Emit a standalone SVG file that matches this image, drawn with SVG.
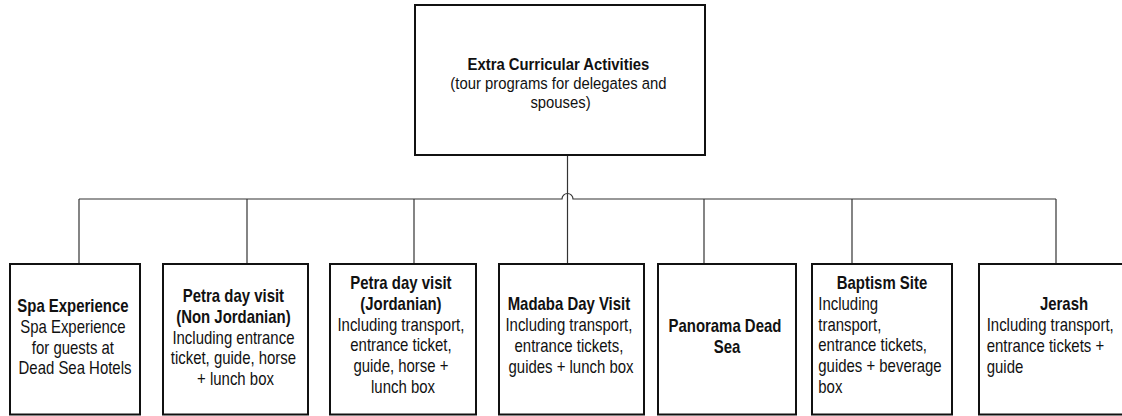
<svg xmlns="http://www.w3.org/2000/svg" width="1122" height="416" viewBox="0 0 1122 416">
  <style>
    .box { fill: #ffffff; stroke: #111111; stroke-width: 2; }
    .wire { fill: none; stroke: #333333; stroke-width: 1.2; }
    text { font-family: "Liberation Sans", Arial, sans-serif; font-size: 18px; fill: #111111; }
    .top { font-size: 16.5px; }
    .b { font-weight: bold; }
    .c { text-anchor: middle; }
  </style>

  <rect width="1122" height="416" fill="#ffffff"/>

  <!-- connectors -->
  <g id="connectors">
    <path class="wire" d="M79 199 H562 A5.5 5.5 0 0 1 573 199 H1056"/>
    <line class="wire" x1="567.5" y1="155" x2="567.5" y2="264"/>
    <line class="wire" x1="79" y1="199" x2="79" y2="264"/>
    <line class="wire" x1="247" y1="199" x2="247" y2="264"/>
    <line class="wire" x1="414" y1="199" x2="414" y2="264"/>
    <line class="wire" x1="704" y1="199" x2="704" y2="264"/>
    <line class="wire" x1="852" y1="199" x2="852" y2="264"/>
    <line class="wire" x1="1056" y1="199" x2="1056" y2="264"/>
  </g>

  <!-- root -->
  <g id="root">
    <rect class="box" x="415" y="5" width="290" height="150"/>
    <text class="c top" transform="translate(560.5 0) scale(0.9 1)">
      <tspan class="b" x="0" y="70.5">Extra Curricular Activities</tspan>
      <tspan x="0" y="89.5">(tour programs for delegates and</tspan>
      <tspan x="0" y="108.5">spouses)</tspan>
    </text>
  </g>

  <g id="spa">
    <rect class="box" x="10" y="264" width="130" height="150.5"/>
    <text class="c" transform="translate(75 0) scale(0.83 1)">
      <tspan class="b" x="0" y="312">Spa Experience</tspan>
      <tspan x="0" y="332.8">Spa Experience</tspan>
      <tspan x="0" y="353.6">for guests at</tspan>
      <tspan x="0" y="374.4">Dead Sea Hotels</tspan>
    </text>
  </g>

  <g id="petra-non-jordanian">
    <rect class="box" x="163" y="264" width="145" height="150.5"/>
    <text class="c" transform="translate(235.5 0) scale(0.83 1)">
      <tspan class="b" x="0" y="302">Petra day visit</tspan>
      <tspan class="b" x="0" y="322.8">(Non Jordanian)</tspan>
      <tspan x="0" y="343.6">Including entrance</tspan>
      <tspan x="0" y="364.4">ticket, guide, horse</tspan>
      <tspan x="0" y="385.2">+ lunch box</tspan>
    </text>
  </g>

  <g id="petra-jordanian">
    <rect class="box" x="330" y="264" width="146" height="150.5"/>
    <text class="c" transform="translate(403 0) scale(0.83 1)">
      <tspan class="b" x="0" y="289">Petra day visit</tspan>
      <tspan class="b" x="0" y="309.8">(Jordanian)</tspan>
      <tspan x="0" y="330.6">Including transport,</tspan>
      <tspan x="0" y="351.4">entrance ticket,</tspan>
      <tspan x="0" y="372.2">guide, horse +</tspan>
      <tspan x="0" y="393">lunch box</tspan>
    </text>
  </g>

  <g id="madaba">
    <rect class="box" x="499" y="264" width="145" height="150.5"/>
    <text class="c" transform="translate(571 0) scale(0.83 1)">
      <tspan class="b" x="0" y="310.5">Madaba Day Visit</tspan>
      <tspan x="0" y="331.3">Including transport,</tspan>
      <tspan x="0" y="352.1">entrance tickets,</tspan>
      <tspan x="0" y="372.9">guides + lunch box</tspan>
    </text>
  </g>

  <g id="panorama">
    <rect class="box" x="658" y="264" width="138" height="150.5"/>
    <text class="c b" transform="translate(727 0) scale(0.83 1)">
      <tspan x="0" y="332">Panorama Dead</tspan>
      <tspan x="0" y="352.8">Sea</tspan>
    </text>
  </g>

  <g id="baptism">
    <rect class="box" x="812" y="264" width="140" height="150.5"/>
    <text class="c b" transform="translate(882 0) scale(0.83 1)">
      <tspan x="0" y="289">Baptism Site</tspan>
    </text>
    <text transform="translate(818.3 0) scale(0.83 1)">
      <tspan x="0" y="309.8">Including</tspan>
      <tspan x="0" y="330.6">transport,</tspan>
      <tspan x="0" y="351.4">entrance tickets,</tspan>
      <tspan x="0" y="372.2">guides + beverage</tspan>
      <tspan x="0" y="393">box</tspan>
    </text>
  </g>

  <g id="jerash">
    <rect class="box" x="979" y="264" width="172" height="150.5"/>
    <text class="c b" transform="translate(1064 0) scale(0.83 1)">
      <tspan x="0" y="310.5">Jerash</tspan>
    </text>
    <text transform="translate(986.7 0) scale(0.83 1)">
      <tspan x="0" y="331.3">Including transport,</tspan>
      <tspan x="0" y="352.1">entrance tickets +</tspan>
      <tspan x="0" y="372.9">guide</tspan>
    </text>
  </g>
</svg>
